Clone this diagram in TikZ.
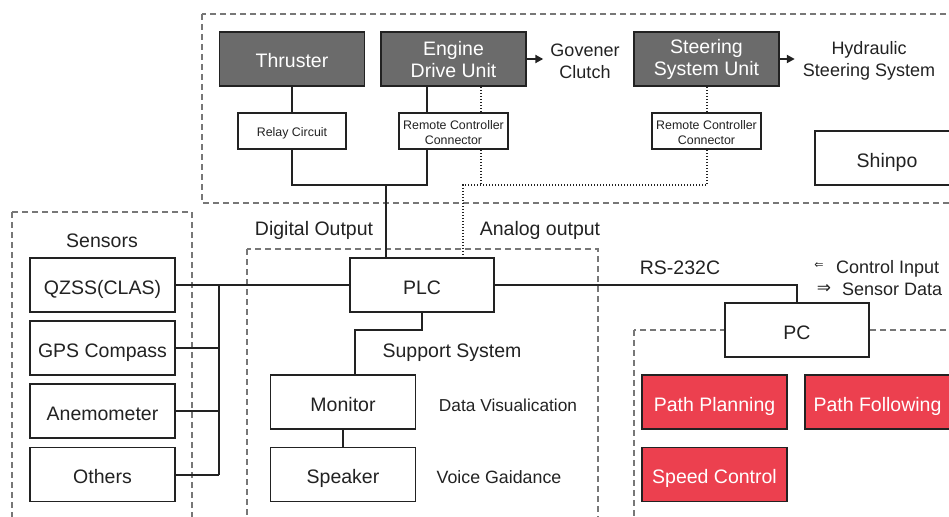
\documentclass[tikz,border=0pt]{standalone}
\usepackage{fontspec}
\setmainfont{Liberation Sans}
\newfontfamily\symfont{DejaVu Sans}
\usetikzlibrary{arrows.meta}
\definecolor{boxgray}{HTML}{6B6B6B}
\definecolor{boxred}{HTML}{EC404F}
\definecolor{dashgray}{HTML}{777777}
\definecolor{ink}{HTML}{222222}
\pgfdeclarelayer{bg}
\pgfsetlayers{bg,main}
\newcommand\mystrut[1]{\rule{0pt}{#1}}
\begin{document}
\begin{tikzpicture}[x=1pt,y=-1pt,
  mbox/.style={draw=ink, fill=white, line width=1.8pt, minimum width=145pt, minimum height=54pt, inner sep=0pt, font=\fontsize{19.5}{22}\selectfont, text=ink, align=center},
  box/.style={mbox, text height=18pt, text depth=0pt},
  darkbox/.style={mbox, fill=boxgray, text=white},
  redbox/.style={box, fill=boxred, text=white},
  smallbox/.style={draw=ink, fill=white, line width=1.6pt, minimum width=109pt, minimum height=36pt, inner sep=0pt, font=\fontsize{12.4}{15}\selectfont, text=ink, align=center},
  lbl/.style={inner sep=0pt, text=ink, align=center, anchor=base, font=\fontsize{19.5}{22}\selectfont},
  sidelbl/.style={inner sep=0pt, text=ink, align=center, font=\fontsize{18}{22}\selectfont},
  conn/.style={draw=ink, line width=2pt},
  dotline/.style={draw=ink, line width=1.8pt, dash pattern=on 1.5pt off 1.5pt},
  dashbox/.style={draw=dashgray, line width=1.2pt, dash pattern=on 6pt off 4pt},
  arr/.style={conn, -{Triangle[length=8pt,width=8pt]}}
]
\useasboundingbox (0,0) rectangle (949,516);
\clip (0,0) rectangle (949,516);

% top row
\node[darkbox] (thr) at (292,59) {\mystrut{18pt}Thruster};
\node[darkbox] (edu) at (453.5,59) {\mystrut{16pt}Engine\\Drive Unit};
\node[darkbox] (ssu) at (706.5,59) {\mystrut{16pt}Steering\\System Unit};
\node[sidelbl] (gov) at (585,61) {Govener\\Clutch};
\node[sidelbl] (hyd) at (869,61) {Hydraulic\\Steering System};
\node[smallbox, minimum width=108pt, text height=11pt, text depth=0pt] (relay) at (292,131) {Relay Circuit};
\node[smallbox] (rc1) at (453.5,131) {\mystrut{13pt}Remote Controller\\Connector};
\node[smallbox] (rc2) at (706.5,131) {\mystrut{13pt}Remote Controller\\Connector};
\node[box, minimum width=150pt] (shinpo) at (890,158) {};
\node[lbl] (shinpot) at (887,167) {Shinpo};

% sensors
\node[lbl] (sens) at (102,247) {Sensors};
\node[box] (qzss) at (102.5,285) {QZSS(CLAS)};
\node[box] (gps) at (102.5,348) {GPS Compass};
\node[box] (anem) at (102.5,411) {Anemometer};
\node[box] (oth) at (102.5,474.5) {Others};

% middle
\node[lbl] (dout) at (314,235) {Digital Output};
\node[lbl] (aout) at (540,235) {Analog output};
\node[box, minimum width=144pt] (plc) at (422,285) {PLC};
\node[lbl] (supp) at (452,357.5) {Support System};
\node[box] (mon) at (343,402) {Monitor};
\node[box] (spk) at (343,474.5) {Speaker};
\node[lbl, font=\fontsize{17.3}{20}\selectfont] (dvis) at (508,411) {Data Visualication};
\node[lbl, font=\fontsize{17.8}{20}\selectfont] (voice) at (499,483) {Voice Gaidance};

% right
\node[lbl] (rs) at (680,274) {RS-232C};
\node[inner sep=0pt, text=ink, font=\symfont\fontsize{11}{12}\selectfont] (larr) at (819,266) {⇐};
\node[lbl, anchor=base west, font=\fontsize{18}{22}\selectfont] (ci) at (836,273.5) {Control Input};
\node[inner sep=0pt, text=ink, font=\symfont\fontsize{17}{20}\selectfont] (rarr) at (824,289) {⇒};
\node[lbl, anchor=base west, font=\fontsize{18}{22}\selectfont] (sd) at (842,295) {Sensor Data};
\node[box, minimum width=144pt] (pc) at (797,330) {PC};
\node[redbox] (pp) at (714.5,402) {Path Planning};
\node[redbox] (pf) at (877.5,402) {Path Following};
\node[redbox] (sc) at (714.5,474.5) {Speed Control};

\begin{pgfonlayer}{bg}
  % dashed groups
  \draw[dashbox] (202,14) rectangle (965,203);
  \draw[dashbox] (12,212) rectangle (192,530);
  \draw[dashbox] (247,249) rectangle (598,530);
  \draw[dashbox] (634,330) rectangle (965,530);

  % top connectors
  \coordinate (junc) at (386,185);
  \coordinate (rcx) at (427,0);
  \draw[conn] (thr.south) -- (relay.north);
  \draw[conn] (edu.south -| rcx) -- (rc1.north -| rcx);
  \draw[conn] (relay.south) |- (junc) -| (rc1.south -| rcx);
  \draw[conn] (junc) -- (junc |- plc.north);

  % dotted analog
  \coordinate (d1) at (481,185);
  \coordinate (d2) at (707,185);
  \coordinate (d0) at (463,185);
  \draw[dotline] (edu.south -| d1) -- (rc1.north -| d1);
  \draw[dotline] (rc1.south -| d1) -- (d1);
  \draw[dotline] (ssu.south -| d2) -- (rc2.north -| d2);
  \draw[dotline] (rc2.south -| d2) -- (d2) -- (d0) -- (d0 |- plc.north);

  % arrows
  \draw[arr] (edu.east) -- ([xshift=-7pt]gov.west |- edu.east);
  \draw[arr] (ssu.east) -- ([xshift=-8pt]hyd.west |- ssu.east);

  % sensor bus
  \coordinate (bt) at (219,285);
  \coordinate (bb) at (219,475);
  \draw[conn] (qzss.east) -- (plc.west);
  \draw[conn] (bt) -- (bb);
  \draw[conn] (gps.east) -- (gps.east -| bt);
  \draw[conn] (anem.east) -- (anem.east -| bt);
  \draw[conn] (oth.east |- bb) -- (bb);

  % PLC to PC
  \draw[conn] (plc.east) -| (pc.north);

  % PLC to monitor
  \coordinate (sj) at (355,330);
  \draw[conn] (plc.south) |- (sj) -- (sj |- mon.north);
  \draw[conn] (mon.south) -- (spk.north);
\end{pgfonlayer}
\end{tikzpicture}
\end{document}
